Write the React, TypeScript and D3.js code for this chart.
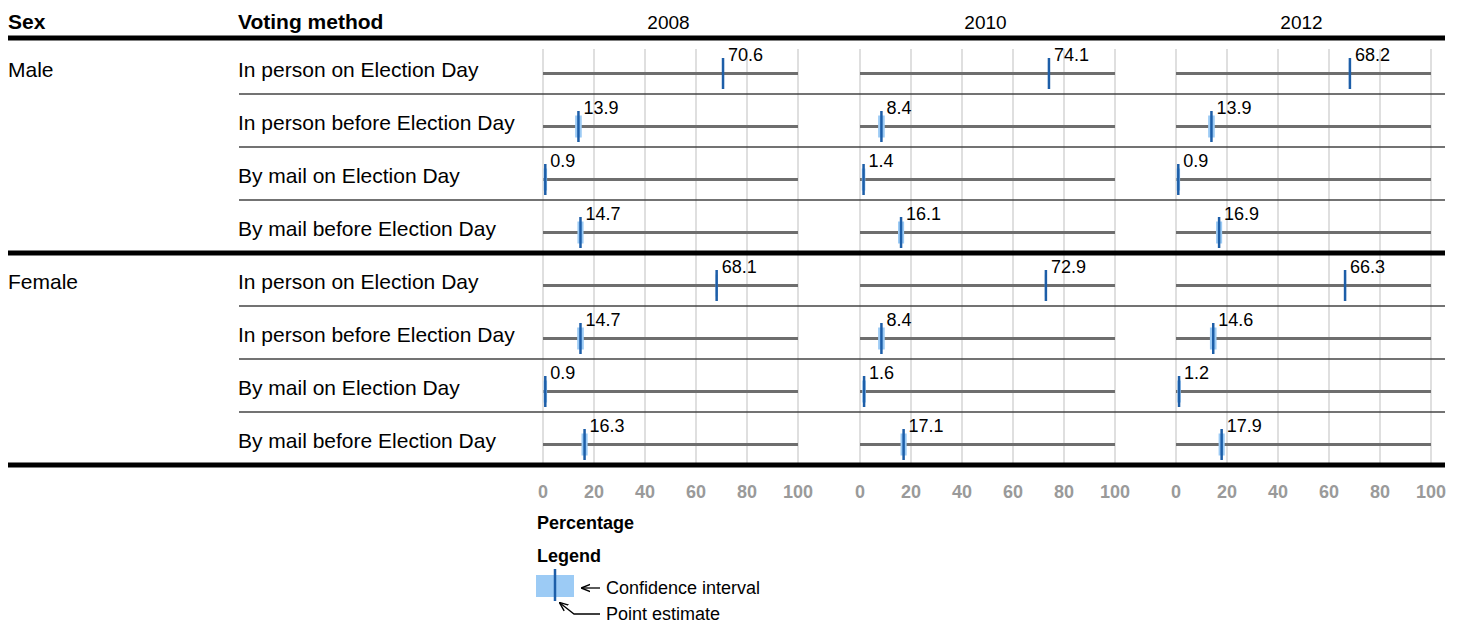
import React from "react";
import * as d3 from "d3";

const years = ["2008", "2010", "2012"];
const sexes = ["Male", "Female"];
const methods = [
  "In person on Election Day",
  "In person before Election Day",
  "By mail on Election Day",
  "By mail before Election Day",
];
// values[sex][year][method]
const maleValues = [
  [70.6, 13.9, 0.9, 14.7],
  [74.1, 8.4, 1.4, 16.1],
  [68.2, 13.9, 0.9, 16.9],
];
const femaleValues = [
  [68.1, 14.7, 0.9, 16.3],
  [72.9, 8.4, 1.6, 17.1],
  [66.3, 14.6, 1.2, 17.9],
];
// confidence interval half-widths (percentage points) per method
const ciHalf = [0.4, 1.3, 0.7, 1.2];
const ticks = [0, 20, 40, 60, 80, 100];

const W = 1459;
const H = 625;
const FONT = "Liberation Sans, Arial, sans-serif";

export default function App() {
  const panelX0 = [543, 860, 1176];
  const panelW = 255;
  const rows = d3.range(8);
  const y = d3.scaleBand<number>().domain(rows).range([41, 465]).padding(0);
  const allValues = [maleValues, femaleValues];

  const xs = panelX0.map((x0) => d3.scaleLinear().domain([0, 100]).range([x0, x0 + panelW]));

  return (
    <svg
      width={W}
      height={H}
      style={{ position: "absolute", left: 0, top: 0, fontFamily: FONT }}
    >
      <rect x={0} y={0} width={W} height={H} fill="#fff" />
      {/* header */}
      <text x={8} y={29} fontSize={21} fontWeight="bold">Sex</text>
      <text x={238} y={29} fontSize={21} fontWeight="bold">Voting method</text>
      {years.map((yr, i) => (
        <text key={yr} x={xs[i](50) - 2} y={29} fontSize={19} textAnchor="middle">{yr}</text>
      ))}

      {/* grid */}
      {xs.map((x, pi) =>
        ticks.map((t) => (
          <line
            key={`g${pi}-${t}`}
            x1={x(t)}
            x2={x(t)}
            y1={49}
            y2={465}
            stroke="#d4d4d4"
            strokeWidth={1.5}
          />
        ))
      )}

      {/* row separators */}
      {rows.map((r) =>
        r % 4 !== 0 ? (
          <line key={`s${r}`} x1={239} x2={1445} y1={y(r)!} y2={y(r)!} stroke="#444" strokeWidth={1.5} />
        ) : null
      )}

      {/* labels */}
      {sexes.map((s, si) => (
        <text key={s} x={8} y={y(si * 4)! + 36} fontSize={21}>{s}</text>
      ))}
      {rows.map((r) => (
        <text key={`m${r}`} x={238} y={y(r)! + 36} fontSize={21}>{methods[r % 4]}</text>
      ))}

      {/* marks */}
      {rows.map((r) => {
        const si = Math.floor(r / 4);
        const mi = r % 4;
        const top = y(r)!;
        const ly = top + 32.5;
        return xs.map((x, pi) => {
          const v = allValues[si][pi][mi];
          const h = ciHalf[mi];
          return (
            <g key={`r${r}p${pi}`}>
              <line x1={x(0)} x2={x(100)} y1={ly} y2={ly} stroke="#6e6e6e" strokeWidth={3} />
              <rect
                x={x(Math.max(0, v - h))}
                y={ly - 11}
                width={x(v + h) - x(Math.max(0, v - h))}
                height={22}
                fill="#9ccbf5"
              />
              <line x1={x(v)} x2={x(v)} y1={top + 17} y2={top + 48} stroke="#1d5ea8" strokeWidth={2.5} />
              <text x={x(v) + 5} y={top + 20} fontSize={18}>{v.toFixed(1)}</text>
            </g>
          );
        });
      })}

      {/* thick lines */}
      {[38, y(4)!, 465].map((yy, i) => (
        <line key={`t${i}`} x1={8} x2={1445} y1={yy} y2={yy} stroke="#000" strokeWidth={5} />
      ))}

      {/* axis tick labels */}
      {xs.map((x, pi) =>
        ticks.map((t) => (
          <text
            key={`tk${pi}-${t}`}
            x={x(t)}
            y={498}
            fontSize={18}
            fontWeight="bold"
            fill="#9a9a9a"
            textAnchor="middle"
          >
            {t}
          </text>
        ))
      )}

      <text x={537} y={529} fontSize={18} fontWeight="bold">Percentage</text>
      <text x={537} y={562} fontSize={18} fontWeight="bold">Legend</text>

      {/* legend */}
      <defs>
        <marker id="arr" viewBox="0 0 10 10" refX={9} refY={5} markerWidth={7} markerHeight={7} orient="auto-start-reverse">
          <path d="M0,1 L10,5 L0,9" fill="none" stroke="#000" strokeWidth={1.5} />
        </marker>
      </defs>
      <rect x={536} y={575} width={38} height={22} fill="#9ccbf5" />
      <line x1={555} x2={555} y1={569} y2={601} stroke="#1d5ea8" strokeWidth={2.5} />
      <line x1={600} x2={582} y1={588} y2={588} stroke="#000" strokeWidth={1.3} markerEnd="url(#arr)" />
      <text x={606} y={594} fontSize={18}>Confidence interval</text>
      <path d="M600,614 L574,614 L560,603" fill="none" stroke="#000" strokeWidth={1.3} markerEnd="url(#arr)" />
      <text x={606} y={620} fontSize={18}>Point estimate</text>
    </svg>
  );
}
